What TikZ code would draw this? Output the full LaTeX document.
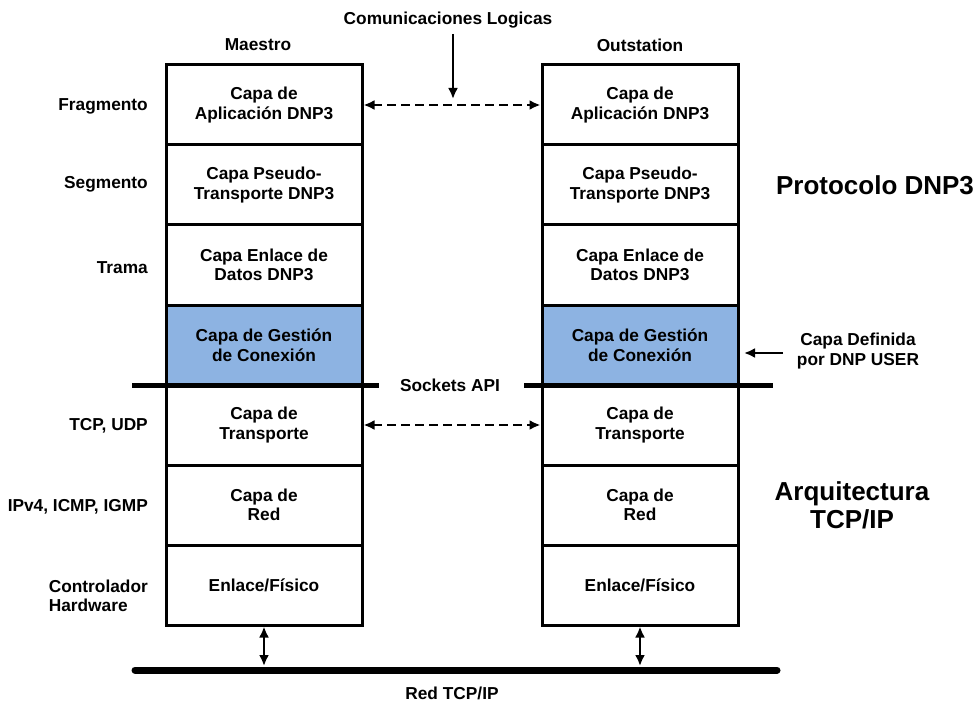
\documentclass[tikz,border=0pt]{standalone}
\usepackage{fontspec}
\setmainfont{Liberation Sans}
\usetikzlibrary{arrows.meta}
\definecolor{gestblue}{RGB}{141,179,226}
\begin{document}
\begin{tikzpicture}[x=1pt,y=-1pt,
  every node/.style={font=\bfseries\fontsize{17.3}{19.5}\selectfont, inner sep=0pt},
  layer/.style={draw, line width=3pt, minimum width=196pt, minimum height=80pt, align=center, fill=white},
  gest/.style={layer, fill=gestblue},
  side/.style={anchor=east, align=right},
  tip/.style={-{Latex[length=11pt,width=10pt]}},
  dtip/.style={{Latex[length=11pt,width=10pt]}-{Latex[length=11pt,width=10pt]}},
  dashlink/.style={dtip, line width=2.6pt, dash pattern=on 9pt off 5pt},
  bigtitle/.style={font=\bfseries\fontsize{26}{28}\selectfont, align=center}]
\useasboundingbox (0,0) rectangle (979,703);

% Maestro stack
\node[layer] (m1) at (264,105) {Capa de\\Aplicación DNP3};
\node[layer] (m2) at (264,185) {Capa Pseudo-\\Transporte DNP3};
\node[layer] (m3) at (264,265) {Capa Enlace de\\Datos DNP3};
\node[gest]  (m4) at (264,345) {Capa de Gestión\\de Conexión};
\node[layer] (m5) at (264,425) {Capa de\\Transporte};
\node[layer] (m6) at (264,505) {Capa de\\Red};
\node[layer] (m7) at (264,585) {Enlace/Físico};

% Outstation stack
\node[layer] (o1) at (640,105) {Capa de\\Aplicación DNP3};
\node[layer] (o2) at (640,185) {Capa Pseudo-\\Transporte DNP3};
\node[layer] (o3) at (640,265) {Capa Enlace de\\Datos DNP3};
\node[gest]  (o4) at (640,345) {Capa de Gestión\\de Conexión};
\node[layer] (o5) at (640,425) {Capa de\\Transporte};
\node[layer] (o6) at (640,505) {Capa de\\Red};
\node[layer] (o7) at (640,585) {Enlace/Físico};

% stack headings
\node (maestro) at (258,45) {Maestro};
\node (outst) at (640,45) {Outstation};

% layer unit names
\node[side] (frag) at (148,106) {Fragmento};
\node[side] (seg) at (148,184) {Segmento};
\node[side] (tram) at (148,268) {Trama};
\node[side] (tcpudp) at (148,426) {TCP, UDP};
\node[side] (ipv4) at (148,507) {IPv4, ICMP, IGMP};
\node[anchor=east, align=left] (ctrl) at (148,596) {Controlador\\Hardware};

% Sockets API boundary
\coordinate (sl1) at (132,385);
\coordinate (sl2) at (379,385);
\coordinate (sr1) at (524,385);
\coordinate (sr2) at (773,385);
\draw[line width=5pt] (sl1) -- (sl2);
\draw[line width=5pt] (sr1) -- (sr2);
\node (sockets) at (450,385) {Sockets API};

% logical communication links
\draw[dashlink] (m1.east) -- (o1.west);
\draw[dashlink] (m5.east) -- (o5.west);
\node (comlog) at (448,20) {Comunicaciones Logicas};
\coordinate (comstart) at (453,34);
\coordinate (comend) at (453,99);
\draw[tip, line width=2.4pt] (comstart) -- (comend);

% user-defined layer note
\node[align=center] (userdef) at (858,351) {Capa Definida\\por DNP USER};
\coordinate (userstart) at (783,353);
\coordinate (userend) at (744,353);
\draw[tip, line width=2.2pt] (userstart) -- (userend);

% section titles
\node[bigtitle] (proto) at (875,185) {Protocolo DNP3};
\node[bigtitle] (arq) at (852,505) {Arquitectura\\TCP/IP};

% physical network
\coordinate (netl) at (135,670);
\coordinate (netr) at (777,670);
\draw[line width=7pt, line cap=round] (netl) -- (netr);
\coordinate (mnet) at (264,666);
\coordinate (onet) at (640,666);
\draw[dtip, line width=2.2pt] (m7.south) -- (mnet);
\draw[dtip, line width=2.2pt] (o7.south) -- (onet);
\node (red) at (452,693) {Red TCP/IP};
\end{tikzpicture}
\end{document}
